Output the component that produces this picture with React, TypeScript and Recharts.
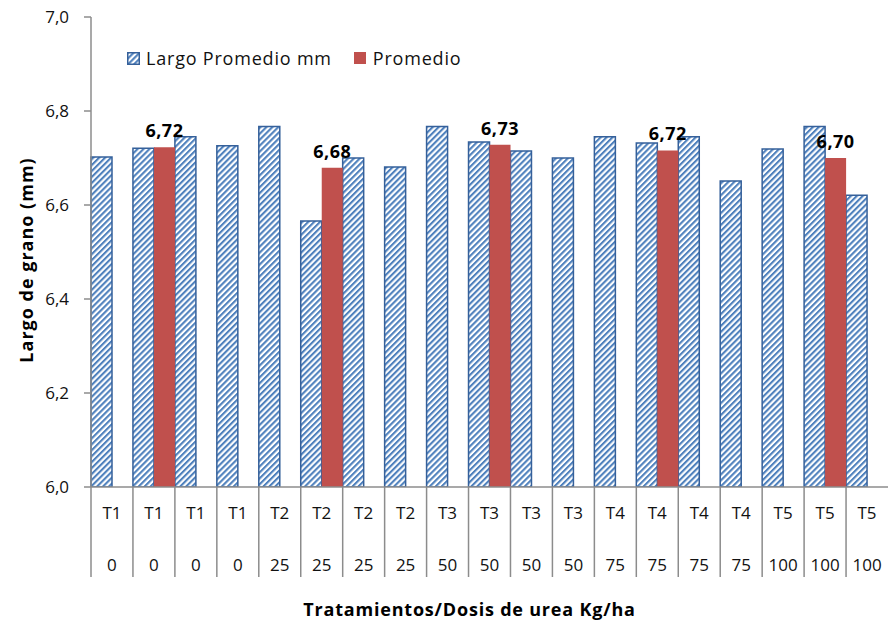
import React from 'react';
import { BarChart, Bar, XAxis, YAxis, Legend, LabelList } from 'recharts';

const treatments = ['T1', 'T1', 'T1', 'T1', 'T2', 'T2', 'T2', 'T2', 'T3', 'T3', 'T3', 'T3', 'T4', 'T4', 'T4', 'T4', 'T5', 'T5', 'T5'];
const doses = ['0', '0', '0', '0', '25', '25', '25', '25', '50', '50', '50', '50', '75', '75', '75', '75', '100', '100', '100'];
const largoPromedio = [6.702, 6.721, 6.745, 6.726, 6.767, 6.566, 6.70, 6.681, 6.767, 6.734, 6.715, 6.70, 6.745, 6.732, 6.745, 6.651, 6.719, 6.767, 6.621];
const promedio: (number | null)[] = [null, 6.723, null, null, null, 6.679, null, null, null, 6.728, null, null, null, 6.716, null, null, null, 6.70, null];
const yTicks = [6.0, 6.2, 6.4, 6.6, 6.8, 7.0];

const data = treatments.map((t, i) => ({
  t,
  dose: doses[i],
  largo: largoPromedio[i],
  prom: promedio[i],
}));

const FONT = '"Open Sans", Lato, sans-serif';
const BLUE = '#4F81BD';
const BORDER = '#35609A';
const RED = '#C0504D';
const AXIS = '#8c8c8c';

const comma = (v: number) => v.toFixed(1).replace('.', ',');

const CategoryTick = (props: any) => {
  const { x, y, payload, index } = props;
  const half = payload && payload.offset ? payload.offset : 797 / 19 / 2;
  return (
    <g>
      <line x1={x - half} y1={y} x2={x - half} y2={y + 90} stroke={AXIS} strokeWidth={1.5} />
      <text x={x} y={y + 32} textAnchor="middle" fontSize={17} fontFamily={FONT} fill="#111">
        {treatments[index]}
      </text>
      <text x={x} y={y + 84} textAnchor="middle" fontSize={17} fontFamily={FONT} fill="#111">
        {doses[index]}
      </text>
    </g>
  );
};

const YTitle = () => (
  <text
    x={33}
    y={260}
    transform="rotate(-90, 33, 260)"
    textAnchor="middle"
    fontSize={18}
    fontWeight="bold"
    fontFamily={FONT}
    letterSpacing={1}
    fill="#000"
  >
    Largo de grano (mm)
  </text>
);

const LegendBox = () => (
  <div style={{ display: 'flex', alignItems: 'center', fontFamily: FONT, fontSize: 18, letterSpacing: 0.8, color: '#111', whiteSpace: 'nowrap' }}>
    <svg width={13} height={13} style={{ marginRight: 6 }}>
      <rect x={0.75} y={0.75} width={11.5} height={11.5} fill="url(#hatch)" stroke={BORDER} strokeWidth={1.5} />
    </svg>
    <span style={{ marginRight: 22 }}>Largo Promedio mm</span>
    <svg width={12} height={12} style={{ marginRight: 7 }}>
      <rect x={0} y={0} width={12} height={12} fill={RED} />
    </svg>
    <span>Promedio</span>
  </div>
);

export default function App() {
  return (
    <div style={{ position: 'absolute', left: 0, top: 0, background: '#fff' }}>
      <BarChart
        width={888}
        height={625}
        data={data}
        margin={{ top: 17, right: 0, left: 0, bottom: 0 }}
        barCategoryGap={0}
        barGap={0}
      >
        <defs>
          <pattern id="hatch" patternUnits="userSpaceOnUse" width={4.2} height={4.2} patternTransform="rotate(45)">
            <rect x={0} y={0} width={4.2} height={4.2} fill="#ffffff" />
            <rect x={0} y={0} width={2.1} height={4.2} fill={BLUE} />
          </pattern>
        </defs>
        <XAxis
          dataKey="t"
          height={138}
          tickLine={false}
          tickSize={0}
          tickMargin={0}
          axisLine={{ stroke: AXIS, strokeWidth: 1.5 }}
          tick={<CategoryTick />}
          interval={0}
          label={{
            value: 'Tratamientos/Dosis  de urea Kg/ha',
            position: 'insideBottom',
            offset: 9,
            dx: -20,
            fontSize: 18,
            fontWeight: 'bold',
            fontFamily: FONT,
            letterSpacing: 0.8,
            fill: '#000',
          }}
        />
        <YAxis
          width={91}
          domain={[6, 7]}
          ticks={yTicks}
          allowDataOverflow
          tickFormatter={comma}
          tickSize={7}
          tickMargin={15}
          axisLine={{ stroke: AXIS, strokeWidth: 1.5 }}
          tickLine={{ stroke: AXIS, strokeWidth: 1.5 }}
          tick={{ fontSize: 17, fontFamily: FONT, fill: '#111' }}
          label={<YTitle />}
        />
        <Legend
          layout="horizontal"
          verticalAlign="middle"
          align="center"
          content={<LegendBox />}
          wrapperStyle={{ position: 'absolute', top: 46, left: 127, width: 'auto' }}
        />
        <Bar
          dataKey="largo"
          name="Largo Promedio mm"
          fill="url(#hatch)"
          stroke={BORDER}
          strokeWidth={1.5}
          isAnimationActive={false}
        />
        <Bar dataKey="prom" name="Promedio" fill={RED} isAnimationActive={false}>
          <LabelList
            dataKey="prom"
            position="top"
            offset={10}
            formatter={(v: any) => (v == null ? '' : Number(v).toFixed(2).replace('.', ','))}
            style={{ fontSize: 18, fontWeight: 'bold', fontFamily: FONT, letterSpacing: 0.5, fill: '#000' }}
          />
        </Bar>
      </BarChart>
    </div>
  );
}
